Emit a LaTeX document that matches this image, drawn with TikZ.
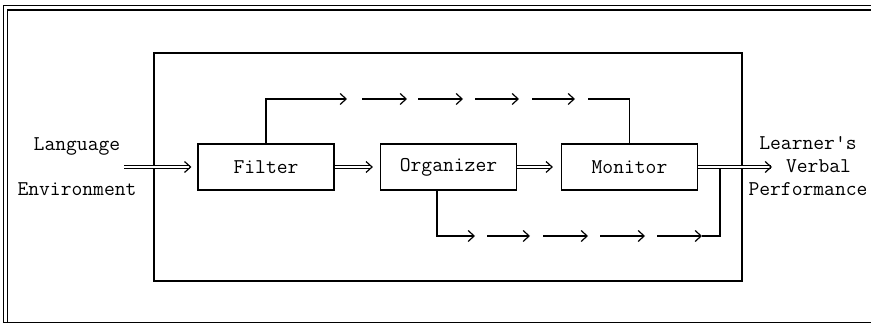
\documentclass[tikz,border=0pt]{standalone}
\usepackage{fontspec}
\usetikzlibrary{positioning,arrows.meta}
\newlength{\basisa}
\setlength{\basisa}{10pt}

\begin{document}
\begin{tikzpicture}[
    font=\ttfamily\fontsize{21}{23}\selectfont,
    line width=1.2pt,
    block/.style={minimum height=4.6\basisa,minimum width=13.6\basisa,draw,inner sep=0pt},
    dbl/.style={double,double distance=2.5pt,-{Straight Barb[length=6pt,width=11pt,line width=1.2pt]}},
    fwd/.style={-{Straight Barb[length=6pt,width=11pt]}}]
    \useasboundingbox (0,0) rectangle (87.1\basisa,32.6\basisa);

    % frame of the page
    \draw[double,double distance=3pt] (87.1\basisa,31.8\basisa) -- (0.55\basisa,31.8\basisa)
        -- (0.55\basisa,0.35\basisa);
    \draw[line width=1.6pt] (0.3\basisa,0.35\basisa) -- (87.1\basisa,0.35\basisa);

    \draw (44.8\basisa,15.9\basisa) 
		node[minimum height=22.8\basisa,minimum width=58.8\basisa,draw] 
			(Acquirer) {};

    \draw (26.6\basisa,15.9\basisa) 
		node[block] 
			(Filter) {Filter};
    \draw (44.85\basisa,15.9\basisa) 
		node[block] 
			(Organizer) {Organizer};
    \draw (62.95\basisa,15.9\basisa) 
		node[block] 
			(Monitor) {Monitor};

    \draw (7.7\basisa,15.95\basisa) 
		node[align=center] 
			(Input) {Language\\[22pt]Environment};
    \draw (80.8\basisa,15.95\basisa) 
		node[align=center] 
			(Output) {Learner's\\\hspace*{1em}Verbal\\Performance};

    \coordinate (InputEnd) at (12.4\basisa,15.9\basisa);
    \coordinate (OutputEnd) at (77.2\basisa,15.9\basisa);
    \coordinate (Join) at (72.0\basisa,15.7\basisa);

	\draw[dbl, shorten >=6pt] (InputEnd) -- (Filter);
	\draw[dbl, shorten >=7pt] (Filter) -- (Organizer);
	\draw[dbl, shorten >=8pt] (Organizer) -- (Monitor);
	\draw[dbl] (Monitor) -- (OutputEnd);

    % route over the organizer
    \coordinate (Top_1) at (34.7\basisa,22.7\basisa);
    \coordinate (Top_6) at (58.8\basisa,22.7\basisa);
	\draw[fwd] (Filter.north) |- (Top_1);
    \foreach \a/\b in {36.2/40.7,41.8/46.3,47.5/51.9,53.2/57.5}
        \draw[fwd] (\a\basisa,22.7\basisa) -- (\b\basisa,22.7\basisa);
	\draw (Top_6) -| (Monitor.north);

    % route under the monitor
    \coordinate (Low_1) at (47.5\basisa,9.0\basisa);
    \coordinate (Low_6) at (70.2\basisa,9.0\basisa);
	\draw[fwd] ([xshift=-1.15\basisa]Organizer.south) |- (Low_1);
    \foreach \a/\b in {48.7/53.0,54.3/58.8,60.0/64.5,65.7/70.2}
        \draw[fwd] (\a\basisa,9.0\basisa) -- (\b\basisa,9.0\basisa);
	\draw (Low_6) -| (Join);
\end{tikzpicture}
\end{document}
